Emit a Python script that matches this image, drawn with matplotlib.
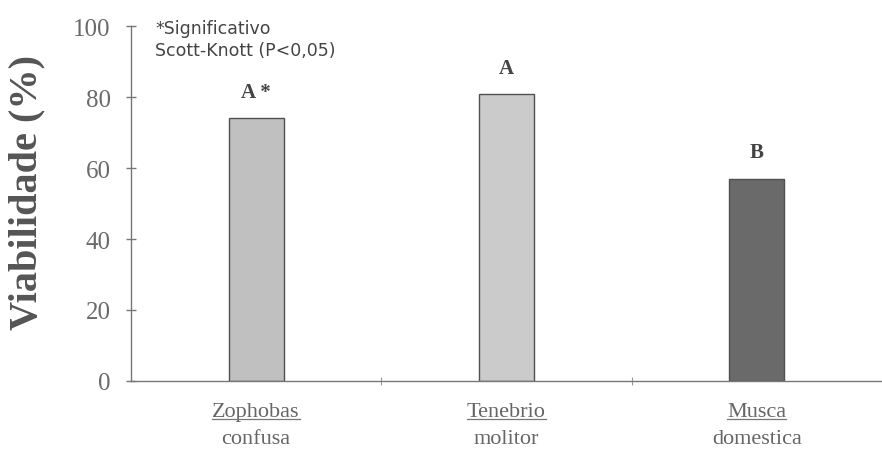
import matplotlib
matplotlib.use("Agg")
import matplotlib.pyplot as plt
from matplotlib.lines import Line2D

genus = ["Zophobas", "Tenebrio", "Musca"]
species = ["confusa", "molitor", "domestica"]
viability = [74.0, 80.8, 57.0]
letters = ["A *", "A", "B"]
bar_colors = ["#c0c0c0", "#cbcbcb", "#6a6a6a"]
yticks = [0, 20, 40, 60, 80, 100]

fig = plt.figure(figsize=(8.82, 4.52), dpi=100)
ax = fig.add_axes([0.1485, 0.155, 0.8515, 0.785])

x = list(range(len(genus)))
ax.bar(x, viability, width=0.22, color=bar_colors, edgecolor="#505050", linewidth=1.0, zorder=2)

ax.set_xlim(-0.5, 2.5)
ax.set_ylim(0, 100)
for s in ["top", "right"]:
    ax.spines[s].set_visible(False)
for s in ["left", "bottom"]:
    ax.spines[s].set_color("#777777")
    ax.spines[s].set_linewidth(1.0)

ax.set_yticks(yticks)
ax.set_yticklabels([str(v) for v in yticks], family="Liberation Serif", fontsize=18, color="#6a6a6a")
ax.tick_params(axis="y", direction="inout", length=7, width=1, color="#777777", pad=11)
ax.set_xticks([0.5, 1.5])
ax.set_xticklabels([])
ax.tick_params(axis="x", direction="inout", length=6, width=0.8, color="#999999")

ax.set_ylabel("Viabilidade (%)", family="Liberation Serif", fontweight="bold", fontsize=29,
              color="#555555")
ax.yaxis.set_label_coords(-0.1145, 0.535)

for xi, v, lt in zip(x, viability, letters):
    ax.annotate(lt, (xi, v), xytext=(0, 12), textcoords="offset points", ha="center", va="bottom",
                family="Liberation Serif", fontweight="bold", fontsize=15, color="#444444")

ax.text(0.032, 1.02, "*Significativo\nScott-Knott (P<0,05)", transform=ax.transAxes,
        ha="left", va="top", family="DejaVu Sans", fontsize=12.5, color="#444444",
        linespacing=1.3)

gtexts = []
for xi, g, sp in zip(x, genus, species):
    t = ax.annotate(g, (xi, 0), xytext=(0, -15), textcoords="offset points", ha="center", va="top",
                    family="Liberation Serif", fontsize=16, color="#666666", annotation_clip=False)
    ax.annotate(sp, (xi, 0), xytext=(0, -34.5), textcoords="offset points", ha="center", va="top",
                family="Liberation Serif", fontsize=16, color="#666666", annotation_clip=False)
    gtexts.append(t)

fig.canvas.draw()
r = fig.canvas.get_renderer()
W, H = fig.bbox.width, fig.bbox.height
for t in gtexts:
    bb = t.get_window_extent(r)
    yline = bb.y0 + 2
    fig.add_artist(Line2D([bb.x0 / W, bb.x1 / W], [yline / H, yline / H], transform=fig.transFigure,
                          color="#777777", linewidth=0.9))

fig.savefig("out.png", dpi=100)
